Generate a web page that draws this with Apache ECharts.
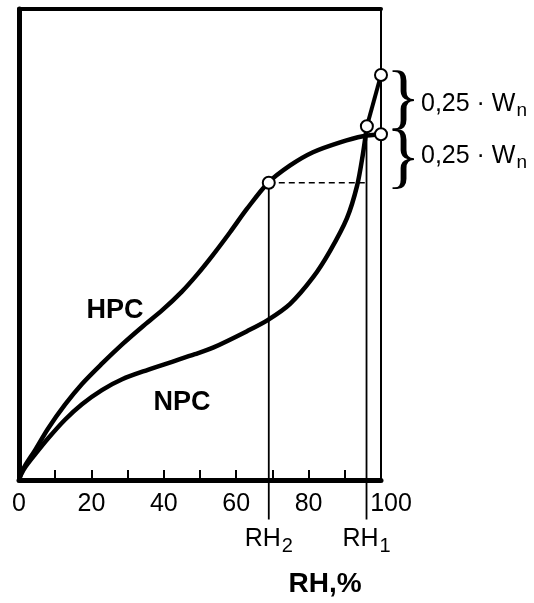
<!DOCTYPE html>
<html>
<head>
<meta charset="utf-8">
<script src="https://cdn.jsdelivr.net/npm/echarts@6/dist/echarts.min.js"></script>
<style>
  html, body { margin:0; padding:0; background:#fff; }
  #chart { width:534px; height:603px; }
</style>
</head>
<body>
<div id="chart"></div>
<script>
// ---- data ----
const xTicks = [0, 20, 40, 60, 80, 100];
const hpcRH = [0, 0.6, 1.8, 4.4, 8.0, 12.7, 17.4, 22.9, 28.5, 34.0, 39.5, 45.0, 49.2, 53.6, 58.3, 63.0, 68.8, 74.9, 81.2, 88.7, 95.0, 100];
const hpcW  = [0, 1.4, 3.2, 6.3, 10.9, 16.0, 20.4, 24.7, 28.8, 32.5, 36.0, 40.0, 43.6, 47.8, 52.6, 57.6, 63.1, 66.8, 69.6, 71.7, 73.0, 73.4];
const npcRH = [0, 0.6, 1.8, 4.4, 8.0, 12.7, 17.4, 22.9, 28.5, 35.6, 42.3, 48.6, 53.6, 63.0, 68.8, 74.9, 81.2, 85.9, 90.6, 93.4, 95.0, 96.1];
const npcW  = [0, 1.2, 2.8, 5.4, 8.8, 12.8, 16.1, 19.1, 21.4, 23.4, 25.1, 26.7, 28.1, 31.6, 34.0, 37.4, 43.0, 48.6, 55.6, 62.5, 69.2, 75.1];
const npcEndRH = [96.1, 100];
const npcEndW  = [75.1, 86.0];
const rh2 = 69, rh1 = 96;
const wRH2 = 63.1;       // HPC water content at RH2
const axisFootW = -8.4;  // lower end of RH guide lines
const rhNames = ['RH{b|2}', 'RH{b|1}'];
const pointRH = [69, 96.1, 100, 100];
const pointW  = [63.1, 75.1, 86.0, 73.4];
const braceMidW = [80.7, 68.1];
const noteW = [79.9, 68.8];
const curveNames = ['HPC', 'NPC'];
const curveNameRH = [26.5, 45];
const curveNameW  = [36.0, 16.4];

const zip = (a, b) => a.map((v, i) => [v, b[i]]);
const F = 'Liberation Sans, Arial, sans-serif';
const solid = { opacity: 1 };

const chart = echarts.init(document.getElementById('chart'), null, {renderer:'canvas'});
const option = {
  animation: false,
  backgroundColor: '#fff',
  grid: { left: 19, right: 153, top: 9, bottom: 118, containLabel: false },
  xAxis: [{
    type: 'value', min: 0, max: 100, interval: 10,
    axisLine: { show: true, onZero: false, lineStyle: { color: '#000', width: 5 } },
    axisTick: { show: true, inside: true, length: 10, lineStyle: { color: '#000', width: 2 } },
    splitLine: { show: false },
    axisLabel: {
      color: '#000', fontFamily: F, fontSize: 25, margin: 12,
      formatter: v => xTicks.indexOf(v) < 0 ? '' : (v === 100 ? '{p|100}' : String(v)),
      rich: { p: { color: '#000', fontFamily: F, fontSize: 25, padding: [0, 0, 0, 20] } }
    },
    name: 'RH,%', nameLocation: 'middle', nameGap: 90,
    nameTextStyle: { color: '#000', fontFamily: F, fontSize: 28, fontWeight: 'bold', padding: [0, 0, 0, 250] }
  }, {
    type: 'value', min: 0, max: 100, position: 'top',
    axisLine: { show: true, onZero: false, lineStyle: { color: '#000', width: 4 } },
    axisTick: { show: false }, axisLabel: { show: false }, splitLine: { show: false }
  }],
  yAxis: [{
    type: 'value', min: 0, max: 100,
    axisLine: { show: true, onZero: false, lineStyle: { color: '#000', width: 5 } },
    axisTick: { show: false }, axisLabel: { show: false }, splitLine: { show: false }
  }, {
    type: 'value', min: 0, max: 100, position: 'right',
    axisLine: { show: true, onZero: false, lineStyle: { color: '#000', width: 2 } },
    axisTick: { show: false }, axisLabel: { show: false }, splitLine: { show: false }
  }],
  series: [
    { type: 'line', name: 'HPC', data: zip(hpcRH, hpcW), smooth: 0.3, symbol: 'none', clip: false,
      lineStyle: { color: '#000', width: 4.5, join: 'round' }, z: 3 },
    { type: 'line', name: 'NPC', data: zip(npcRH, npcW), smooth: 0.3, symbol: 'none', clip: false,
      lineStyle: { color: '#000', width: 4.5, join: 'round' }, z: 3 },
    { type: 'line', name: 'NPC end', data: zip(npcEndRH, npcEndW), symbol: 'none', clip: false,
      lineStyle: { color: '#000', width: 4 }, z: 3 },
    { type: 'line', name: 'dash', data: [[rh2, wRH2], [rh1, wRH2]], symbol: 'none', clip: false,
      lineStyle: { color: '#000', width: 1.5, type: [6, 4] }, z: 2 },
    { type: 'line', name: 'RH2', symbol: 'none', clip: false,
      lineStyle: { color: '#000', width: 1.8 }, z: 2,
      data: [[rh2, wRH2], [rh2, axisFootW]] },
    { type: 'line', name: 'RH1', symbol: 'none', clip: false,
      lineStyle: { color: '#000', width: 1.8 }, z: 2,
      data: [[rh1, pointW[1]], [rh1, axisFootW]] },
    { type: 'scatter', name: 'RH labels', symbolSize: 0, clip: false, z: 11, itemStyle: solid,
      data: [rh2, rh1].map((x, i) => ({ name: rhNames[i], value: [x, axisFootW] })),
      label: { show: true, position: 'bottom', distance: 3, formatter: p => '{a|' + p.name.replace('{b|', '}{b|'),
        rich: { a: { fontFamily: F, fontSize: 25, color: '#000' },
                b: { fontFamily: F, fontSize: 20, color: '#000', padding: [14, 0, 0, 1] } } } },
    { type: 'scatter', name: 'points', data: zip(pointRH, pointW), symbol: 'circle', symbolSize: 12,
      itemStyle: { color: '#fff', borderColor: '#000', borderWidth: 2, opacity: 1 }, z: 10, clip: false },
    { type: 'scatter', name: 'names', symbolSize: 0, clip: false, z: 11, itemStyle: solid,
      data: curveNames.map((n, i) => ({ name: n, value: [curveNameRH[i], curveNameW[i]] })),
      label: { show: true, position: 'inside', formatter: p => p.name, color: '#000',
        fontFamily: F, fontSize: 27, fontWeight: 'bold' } },
    { type: 'scatter', name: 'braces', symbolSize: 0, clip: false, z: 11, itemStyle: solid,
      data: braceMidW.map(w => [100, w]),
      label: { show: true, position: 'right', distance: 5, formatter: '}', color: '#000',
        fontFamily: 'Liberation Serif, serif', fontSize: 72, offset: [0, 1] } },
    { type: 'scatter', name: 'notes', symbolSize: 0, clip: false, z: 11, itemStyle: solid,
      data: noteW.map(w => [100, w]),
      label: { show: true, position: 'right', distance: 40, formatter: '{t|0,25 · W}{s|n}',
        rich: { t: { fontFamily: F, fontSize: 25, color: '#000' },
                s: { fontFamily: F, fontSize: 19, color: '#000', padding: [14, 0, 0, 1] } } } }
  ]
};
chart.setOption(option);
</script>
</body>
</html>
